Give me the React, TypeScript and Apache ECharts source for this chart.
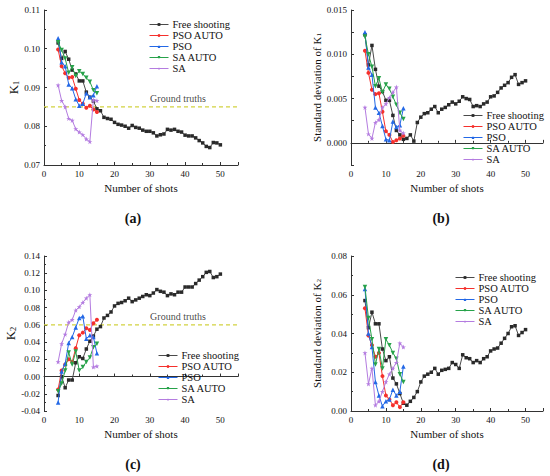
import React, { useEffect, useRef } from "react";
import * as echarts from "echarts";

const shotsShort = [4, 5, 6, 7, 8, 9, 10, 11, 12, 13, 14, 15];
const shotsFree = [4, 5, 6, 7, 8, 9, 10, 11, 12, 13, 14, 15, 16, 17, 18, 19, 20, 21, 22, 23, 24, 25, 26, 27, 28, 29, 30, 31, 32, 33, 34, 35, 36, 37, 38, 39, 40, 41, 42, 43, 44, 45, 46, 47, 48, 49, 50];

const seriesNames = ["Free shooting", "PSO AUTO", "PSO", "SA AUTO", "SA"];

// (a) K1
const freeK1 = [0.1015, 0.0975, 0.0993, 0.0973, 0.0945, 0.0935, 0.0917, 0.0917, 0.0888, 0.0875, 0.0865, 0.0845, 0.084, 0.0823, 0.082, 0.0818, 0.081, 0.0805, 0.0803, 0.08, 0.0795, 0.0802, 0.0797, 0.0795, 0.079, 0.0787, 0.0787, 0.0783, 0.0775, 0.0778, 0.078, 0.0792, 0.079, 0.0792, 0.0787, 0.0785, 0.0777, 0.0775, 0.0775, 0.077, 0.0763, 0.0757, 0.0748, 0.0745, 0.0758, 0.0757, 0.0752];
const psoAutoK1 = [0.0998, 0.0955, 0.0937, 0.0925, 0.0927, 0.0897, 0.0868, 0.0858, 0.0848, 0.0853, 0.0843, 0.0837];
const psoK1 = [0.1027, 0.0965, 0.0955, 0.0908, 0.0898, 0.087, 0.0853, 0.0858, 0.0885, 0.0875, 0.088, 0.0903];
const saAutoK1 = [0.1017, 0.0997, 0.0975, 0.0938, 0.0952, 0.093, 0.0942, 0.0935, 0.0925, 0.0915, 0.0893, 0.0885];
const saK1 = [0.0906, 0.0866, 0.085, 0.082, 0.0815, 0.0793, 0.0785, 0.0778, 0.0767, 0.076, 0.0868, 0.0866];

// (b) SD of K1
const freeSD1 = [0.0122, 0.0088, 0.011, 0.0083, 0.0064, 0.0058, 0.0048, 0.0048, 0.0031, 0.0014, 0.0009, 0.0004, 0.0005, 0.0009, 0.0002, 0.0023, 0.0029, 0.0033, 0.0034, 0.0038, 0.0041, 0.0034, 0.0038, 0.004, 0.0043, 0.0046, 0.0044, 0.0047, 0.0052, 0.005, 0.0049, 0.0041, 0.0042, 0.0041, 0.0044, 0.0046, 0.0052, 0.0053, 0.0057, 0.0062, 0.0065, 0.0068, 0.0074, 0.0077, 0.0066, 0.0068, 0.007];
const psoAutoSD1 = [0.0104, 0.0079, 0.006, 0.0055, 0.0056, 0.0035, 0.0013, 0.0009, 0.0001, 0.0003, 0.0005, 0.0008];
const psoSD1 = [0.0125, 0.0085, 0.0077, 0.004, 0.0034, 0.0019, 0.0004, 0.0003, 0.0024, 0.0018, 0.002, 0.0039];
const saAutoSD1 = [0.012, 0.01, 0.0086, 0.0064, 0.0073, 0.0057, 0.0066, 0.0061, 0.0052, 0.0043, 0.0034, 0.0027];
const saSD1 = [0.004, 0.001, 0.0005, 0.0023, 0.0026, 0.004, 0.0044, 0.0051, 0.0057, 0.0063, 0.0014, 0.0011];

// (c) K2
const freeK2 = [-0.022, 0.0, -0.013, -0.004, -0.004, 0.016, 0.023, 0.021, 0.032, 0.041, 0.047, 0.055, 0.058, 0.068, 0.071, 0.075, 0.082, 0.085, 0.086, 0.088, 0.091, 0.087, 0.089, 0.091, 0.093, 0.095, 0.094, 0.097, 0.101, 0.099, 0.098, 0.094, 0.096, 0.095, 0.098, 0.098, 0.104, 0.104, 0.104, 0.108, 0.112, 0.116, 0.121, 0.122, 0.115, 0.116, 0.119];
const psoAutoK2 = [-0.015, 0.007, 0.014, 0.02, 0.017, 0.033, 0.048, 0.051, 0.056, 0.054, 0.062, 0.066];
const psoK2 = [-0.03, 0.006, 0.015, 0.039, 0.046, 0.057, 0.068, 0.07, 0.044, 0.048, 0.046, 0.027];
const saAutoK2 = [-0.017, -0.008, 0.007, 0.028, 0.014, 0.029, 0.007, 0.011, 0.017, 0.022, 0.034, 0.038];
const saK2 = [0.017, 0.038, 0.049, 0.063, 0.066, 0.077, 0.081, 0.086, 0.091, 0.095, 0.011, 0.012];

// (d) SD of K2
const freeSD2 = [0.057, 0.043, 0.051, 0.045, 0.045, 0.032, 0.026, 0.028, 0.017, 0.014, 0.009, 0.004, 0.003, 0.005, 0.007, 0.01, 0.015, 0.018, 0.019, 0.02, 0.022, 0.019, 0.021, 0.0215, 0.022, 0.025, 0.024, 0.022, 0.029, 0.0275, 0.027, 0.025, 0.026, 0.025, 0.027, 0.028, 0.031, 0.032, 0.0325, 0.035, 0.0375, 0.04, 0.0435, 0.044, 0.039, 0.0405, 0.042];
const psoAutoSD2 = [0.053, 0.039, 0.034, 0.028, 0.03, 0.018, 0.008, 0.006, 0.003, 0.0045, 0.002, 0.0045];
const psoSD2 = [0.063, 0.04, 0.033, 0.015, 0.008, 0.0025, 0.005, 0.006, 0.011, 0.008, 0.01, 0.023];
const saAutoSD2 = [0.064, 0.048, 0.037, 0.024, 0.032, 0.022, 0.037, 0.034, 0.03, 0.027, 0.019, 0.015];
const saSD2 = [0.03, 0.014, 0.022, 0.003, 0.005, 0.01, 0.015, 0.019, 0.022, 0.025, 0.035, 0.033];

const groundTruthK1 = 0.085;
const groundTruthK2 = 0.06;
const groundTruthLabelX = 38;
const xTickLabels = ["0", "10", "20", "30", "40", "50"];

const FONT = "'Liberation Serif', 'Times New Roman', serif";
const COLORS = ["#4a4a4a", "#f5302c", "#2368e6", "#27a24a", "#b47ce0"];
const TRUTH = "#d2d240";
const DOWN_TRI = "path://M0,0 L10,0 L5,9 Z";
const STAR = "path://M5,0 L6.2,3.6 L10,3.6 L6.9,5.9 L8.1,9.5 L5,7.3 L1.9,9.5 L3.1,5.9 L0,3.6 L3.8,3.6 Z";
const SYMBOLS = ["rect", "circle", "triangle", DOWN_TRI, STAR];
const SIZES = [3.5, 4, 4.5, 4.5, 5];

const pairs = (xs: number[], ys: number[]) => xs.map((x, i) => [x, ys[i]]);

export default function App() {
  const ref = useRef<HTMLDivElement>(null);

  useEffect(() => {
    if (!ref.current) return;
    const chart = echarts.init(ref.current, undefined, { renderer: "svg" });

    const grids = [
      { left: 44, top: 10, width: 194, height: 155 },
      { left: 351, top: 10, width: 192, height: 155 },
      { left: 44, top: 256, width: 194, height: 155 },
      { left: 351, top: 256, width: 192, height: 155 },
    ];

    const axisCommon = {
      axisLine: { show: true, lineStyle: { color: "#333", width: 1 } },
      axisTick: { show: true, inside: true, length: 3, lineStyle: { color: "#333" } },
      minorTick: { show: true, splitNumber: 2, length: 2, lineStyle: { color: "#333" } },
      splitLine: { show: false },
      axisLabel: { color: "#111", fontSize: 9, fontFamily: FONT, margin: 4 },
    };

    const xAxes = grids.map((_, i) => ({
      type: "value",
      gridIndex: i,
      min: 0,
      max: 55,
      interval: 10,
      ...axisCommon,
      axisLabel: {
        ...axisCommon.axisLabel,
        formatter: (v: number) => {
          const s = String(v);
          return xTickLabels.includes(s) ? s : "";
        },
      },
      name: "Number of shots",
      nameLocation: "middle",
      nameGap: 17,
      nameTextStyle: { fontSize: 11, fontFamily: FONT, color: "#111" },
    }));

    const yName = (prefix: string, sub: string) => `{k|${prefix}}{s|${sub}}`;
    const yNameStyle = (size: number) => ({
      fontFamily: FONT,
      color: "#111",
      rich: {
        k: { fontSize: size, fontFamily: FONT, color: "#111", lineHeight: size + 2, verticalAlign: "bottom" },
        s: { fontSize: size * 0.65, fontFamily: FONT, color: "#111", lineHeight: size * 0.75, verticalAlign: "bottom" },
      },
    });

    const yAxes = [
      {
        type: "value", gridIndex: 0, min: 0.07, max: 0.11, interval: 0.01, ...axisCommon,
        axisLabel: { ...axisCommon.axisLabel, formatter: (v: number) => v.toFixed(2) },
        name: yName("K", "1"), nameLocation: "middle", nameGap: 24, nameTextStyle: yNameStyle(13),
      },
      {
        type: "value", gridIndex: 1, min: -0.0025, max: 0.015, interval: 0.0025, ...axisCommon,
        minorTick: { show: false },
        axisLabel: {
          ...axisCommon.axisLabel,
          formatter: (v: number) => {
            const r = v / 0.005;
            return v >= -1e-9 && Math.abs(r - Math.round(r)) < 1e-6 ? Math.abs(v).toFixed(3) : "";
          },
        },
        name: yName("Standard deviation of K", "1"), nameLocation: "middle", nameGap: 29, nameTextStyle: yNameStyle(11),
      },
      {
        type: "value", gridIndex: 2, min: -0.04, max: 0.14, interval: 0.02, ...axisCommon,
        axisLabel: { ...axisCommon.axisLabel, formatter: (v: number) => (Math.abs(v) < 1e-9 ? "0.00" : v.toFixed(2)) },
        name: yName("K", "2"), nameLocation: "middle", nameGap: 24, nameTextStyle: yNameStyle(13),
      },
      {
        type: "value", gridIndex: 3, min: 0, max: 0.08, interval: 0.02, ...axisCommon,
        axisLabel: { ...axisCommon.axisLabel, formatter: (v: number) => v.toFixed(2) },
        name: yName("Standard deviation of K", "2"), nameLocation: "middle", nameGap: 29, nameTextStyle: yNameStyle(11),
      },
    ];

    const panels = [
      [freeK1, psoAutoK1, psoK1, saAutoK1, saK1],
      [freeSD1, psoAutoSD1, psoSD1, saAutoSD1, saSD1],
      [freeK2, psoAutoK2, psoK2, saAutoK2, saK2],
      [freeSD2, psoAutoSD2, psoSD2, saAutoSD2, saSD2],
    ];

    const series: any[] = [];
    panels.forEach((sets, gi) => {
      sets.forEach((vals, si) => {
        series.push({
          type: "line",
          name: seriesNames[si],
          xAxisIndex: gi,
          yAxisIndex: gi,
          data: pairs(si === 0 ? shotsFree : shotsShort, vals),
          symbol: SYMBOLS[si],
          symbolSize: SIZES[si],
          showSymbol: true,
          lineStyle: { color: COLORS[si], width: 1 },
          itemStyle: { color: si === 0 ? "#2a2a2a" : COLORS[si], borderWidth: 0 },
          z: 3 + si,
        });
      });
    });

    [[0, groundTruthK1], [2, groundTruthK2]].forEach(([gi, v]) => {
      series.push({
        type: "line",
        name: "Ground truths line",
        xAxisIndex: gi,
        yAxisIndex: gi,
        data: [[0, v], [55, v]],
        symbol: "none",
        silent: true,
        lineStyle: { color: TRUTH, width: 1.2, type: [4, 3] },
        z: 2,
      });
      series.push({
        type: "scatter",
        name: "Ground truths label",
        xAxisIndex: gi,
        yAxisIndex: gi,
        data: [[groundTruthLabelX, v]],
        symbolSize: 0,
        silent: true,
        label: {
          show: true,
          position: "top",
          distance: 3,
          formatter: "Ground truths",
          fontSize: 10,
          fontFamily: FONT,
          color: "#111",
        },
      });
    });

    const legendBase = {
      orient: "vertical",
      data: seriesNames,
      itemWidth: 19,
      itemHeight: 3.5,
      itemGap: 0,
      padding: 0,
      selectedMode: false,
      itemStyle: { borderWidth: 0, borderColor: "transparent" },
      lineStyle: { width: 1 },
      textStyle: { fontSize: 10.5, fontFamily: FONT, color: "#111", lineHeight: 11, padding: [0, 0, 0, -1] },
    };

    const captions = [
      { t: "(a)", x: 133, y: 218 },
      { t: "(b)", x: 441, y: 218 },
      { t: "(c)", x: 133, y: 464 },
      { t: "(d)", x: 441, y: 464 },
    ];

    chart.setOption({
      animation: false,
      textStyle: { fontFamily: FONT },
      grid: grids,
      xAxis: xAxes,
      yAxis: yAxes,
      legend: [
        { ...legendBase, left: 149, top: 19 },
        { ...legendBase, left: 463, top: 110 },
        { ...legendBase, left: 158, top: 350 },
        { ...legendBase, left: 455, top: 272 },
      ],
      series,
      graphic: captions.map((c) => ({
        type: "text",
        x: c.x,
        y: c.y,
        style: {
          text: c.t,
          fontSize: 14,
          fontWeight: "bold",
          fontFamily: FONT,
          fill: "#111",
          textAlign: "center",
          textVerticalAlign: "middle",
        },
      })),
    });

    return () => chart.dispose();
  }, []);

  return (
    <div
      ref={ref}
      style={{ position: "fixed", left: 0, top: 0, width: 550, height: 476, background: "#fff" }}
    />
  );
}
